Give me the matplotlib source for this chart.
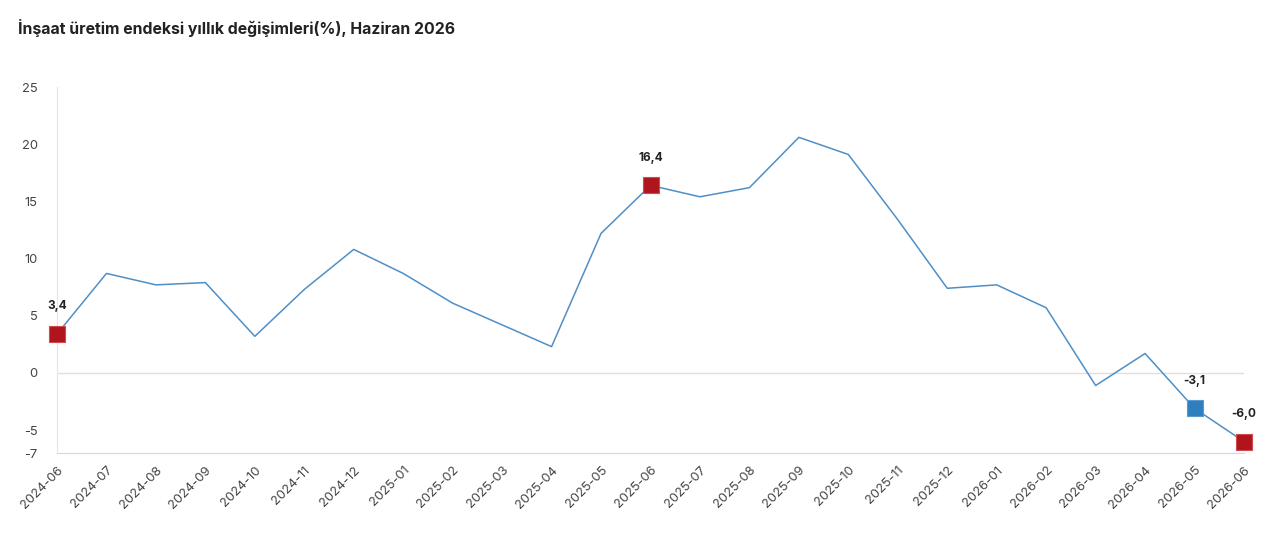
import numpy as np
import matplotlib.pyplot as plt

plt.rcParams["font.family"] = ["Inter", "DejaVu Sans"]

# veriler
months = ["2024-06", "2024-07", "2024-08", "2024-09", "2024-10", "2024-11", "2024-12",
          "2025-01", "2025-02", "2025-03", "2025-04", "2025-05", "2025-06", "2025-07",
          "2025-08", "2025-09", "2025-10", "2025-11", "2025-12", "2026-01", "2026-02",
          "2026-03", "2026-04", "2026-05", "2026-06"]
values = [3.4, 8.7, 7.7, 7.9, 3.2, 7.3, 10.8, 8.7, 6.1, 4.2, 2.3, 12.2, 16.4, 15.4,
          16.2, 20.6, 19.1, 13.4, 7.4, 7.7, 5.7, -1.1, 1.7, -3.1, -6.0]
red_points = ["2024-06", "2025-06", "2026-06"]
blue_points = ["2026-05"]
yticks = [-7, -5, 0, 5, 10, 15, 20, 25]

fig = plt.figure(figsize=(12.8, 5.35), dpi=100)
ax = fig.add_axes([57/1280, 82/535, 1187/1280, 366/535])

x = np.arange(len(months))
ax.plot(x, values, color="#4f8fc6", lw=1.1, zorder=2)

def mark(points, face, edge):
    for m in points:
        i = months.index(m)
        ax.plot(i, values[i], marker="s", ms=11, color=face, mec=edge, mew=0.8,
                clip_on=False, zorder=3)
        ax.annotate(f"{values[i]:.1f}".replace(".", ","), (i, values[i]), xytext=(0, 20),
                    textcoords="offset points", ha="center", va="center",
                    fontsize=8.5, fontweight="bold", color="#222222")

mark(red_points, "#b0151d", "#d04a50")
mark(blue_points, "#2f7fc0", "#5a9ad0")

ax.set_xlim(0, len(months) - 1)
ax.set_ylim(-7, 25)
ax.set_yticks(yticks)
ax.set_yticklabels([str(v) for v in yticks])
ax.set_xticks(x)
ax.set_xticklabels(months, rotation=45, ha="right", rotation_mode="anchor")

ax.axhline(0, color="#e0e0e0", lw=1, zorder=1)
for s in ["top", "right"]:
    ax.spines[s].set_visible(False)
ax.spines["left"].set_color("#e6e6e6")
ax.spines["bottom"].set_color("#d8d8d8")
ax.tick_params(axis="both", length=0, labelsize=9.3, colors="#444444")
ax.tick_params(axis="y", pad=14)
ax.tick_params(axis="x", pad=8)

fig.text(18/1280, 1 - 28/535, "İnşaat üretim endeksi yıllık değişimleri(%), Haziran 2026",
         fontsize=11.4, fontweight="bold", color="#222222", va="center", ha="left")

fig.savefig("out.png", dpi=100, facecolor="white")
